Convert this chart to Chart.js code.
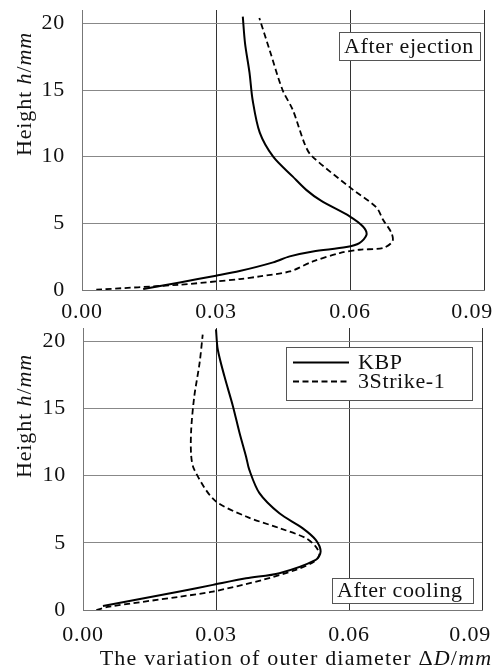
<!DOCTYPE html>
<html>
<head>
<meta charset="utf-8">
<script src="https://cdn.jsdelivr.net/npm/chart.js@4.4.1/dist/chart.umd.min.js"></script>
<style>
  html, body { margin: 0; padding: 0; background: #fff; }
  body { width: 499px; height: 671px; position: relative; overflow: hidden; font-family: "Liberation Serif", "DejaVu Serif", serif; color: #111; }
  .wrap { position: absolute; left: 0; width: 499px; }
  .ytitle { position: absolute; font-size: 22px; line-height: 22px; letter-spacing: 0.9px; white-space: nowrap; transform: translate(-50%, -50%) rotate(-90deg); color: #111; }
  .xtitle { position: absolute; font-size: 22px; line-height: 22px; letter-spacing: 1.2px; white-space: nowrap; transform: translateX(-50%); color: #111; }
  i { font-style: italic; }
</style>
</head>
<body>
<div class="wrap" style="top:0;height:320px;"><canvas id="c1" width="499" height="320"></canvas></div>
<div class="wrap" style="top:320px;height:351px;"><canvas id="c2" width="499" height="351"></canvas></div>
<div class="ytitle" style="left:24px;top:94px;">Height <i>h</i>/<i>mm</i></div>
<div class="ytitle" style="left:24px;top:416px;">Height <i>h</i>/<i>mm</i></div>
<div class="xtitle" style="left:296px;top:647px;">The variation of outer diameter Δ<i>D</i>/<i>mm</i></div>
<script>
// ---- data ----
const SERIES_NAMES = ["KBP", "3Strike-1"];
const PANEL_LABELS = ["After ejection", "After cooling"];
const X_TICKS = [0, 0.03, 0.06, 0.09];
const Y_TICKS = [0, 5, 10, 15, 20];

// After ejection
const EJ_KBP_DD = [0.0137, 0.0219, 0.0300, 0.0353, 0.0428, 0.0465, 0.0517, 0.0592, 0.0621, 0.0637, 0.0629, 0.0600, 0.0535, 0.0502, 0.0472, 0.0428, 0.0398, 0.0382, 0.0375, 0.0365, 0.0360];
const EJ_KBP_H  = [0.07, 0.57, 1.07, 1.42, 2.07, 2.52, 2.89, 3.22, 3.52, 4.14, 4.76, 5.51, 6.70, 7.51, 8.50, 10.0, 11.8, 14.25, 16.3, 18.5, 20.5];
const EJ_3S_DD  = [0.0032, 0.0219, 0.0300, 0.0353, 0.0398, 0.0465, 0.0517, 0.0577, 0.0621, 0.0674, 0.0695, 0.0693, 0.0674, 0.0659, 0.0607, 0.0513, 0.0498, 0.0472, 0.0449, 0.0420, 0.0397];
const EJ_3S_H   = [0.02, 0.40, 0.64, 0.82, 1.02, 1.39, 2.14, 2.77, 3.02, 3.15, 3.64, 4.27, 5.27, 6.20, 7.51, 10.1, 11.0, 13.5, 15.0, 18.0, 20.4];

// After cooling
const CO_KBP_DD = [0.0045, 0.0218, 0.0293, 0.0368, 0.0443, 0.0525, 0.0536, 0.0525, 0.0495, 0.0443, 0.0398, 0.0375, 0.0368, 0.0353, 0.0338, 0.0319, 0.0304, 0.0300];
const CO_KBP_H  = [0.30, 1.37, 1.87, 2.36, 2.74, 3.73, 4.35, 5.22, 6.10, 7.20, 8.70, 10.45, 11.4, 13.2, 15.2, 17.4, 19.4, 20.9];
const CO_3S_DD  = [0.0030, 0.0060, 0.0218, 0.0293, 0.0405, 0.0480, 0.0521, 0.0533, 0.0525, 0.0503, 0.0443, 0.0368, 0.0296, 0.0251, 0.0244, 0.0244, 0.0251, 0.0263, 0.0270];
const CO_3S_H   = [0.00, 0.25, 0.99, 1.37, 2.24, 2.99, 3.60, 4.10, 4.72, 5.35, 6.10, 6.96, 8.20, 10.45, 11.5, 13.4, 15.9, 18.4, 20.5];

function pts(xs, ys) { return xs.map((x, i) => ({ x: x, y: ys[i] })); }

const FONT = { family: "'Liberation Serif', 'DejaVu Serif', serif", size: 22 };
const SPACING = '0.8px';

const spacingPlugin = {
  id: 'spacing',
  beforeUpdate(chart) { chart.ctx.letterSpacing = SPACING; },
  beforeDraw(chart) { chart.ctx.letterSpacing = SPACING; }
};

function boxPlugin(cfg) {
  return {
    id: 'panelDecor',
    afterDatasetsDraw(chart) {
      const ctx = chart.ctx, a = chart.chartArea;
      ctx.save();
      ctx.letterSpacing = '0.6px';
      ctx.font = "22px 'Liberation Serif', serif";
      ctx.strokeStyle = '#555';
      ctx.lineWidth = 1;
      // panel label box
      const lb = cfg.label;
      const bx = a.right - lb.right - lb.w;
      const by = lb.top != null ? a.top + lb.top : a.bottom - lb.bottom - lb.h;
      ctx.fillStyle = '#fff';
      ctx.fillRect(bx, by, lb.w, lb.h);
      ctx.strokeRect(Math.round(bx) + 0.5, Math.round(by) + 0.5, lb.w, lb.h);
      ctx.fillStyle = '#111';
      ctx.textBaseline = 'middle';
      ctx.textAlign = 'left';
      ctx.fillText(lb.text, bx + 5, by + lb.h / 2 + 1);
      // legend
      if (cfg.legend) {
        const lg = cfg.legend;
        const lx = a.right - lg.right - lg.w, ly = a.top + lg.top;
        ctx.fillStyle = '#fff';
        ctx.fillRect(lx, ly, lg.w, lg.h);
        ctx.strokeRect(Math.round(lx) + 0.5, Math.round(ly) + 0.5, lg.w, lg.h);
        chart.data.datasets.forEach((ds, i) => {
          const yy = ly + 15.5 + i * 19;
          ctx.save();
          ctx.strokeStyle = ds.borderColor;
          ctx.lineWidth = ds.borderWidth;
          ctx.setLineDash(ds.borderDash || []);
          ctx.beginPath();
          ctx.moveTo(lx + 7, yy);
          ctx.lineTo(lx + 63, yy);
          ctx.stroke();
          ctx.restore();
          ctx.fillStyle = '#111';
          ctx.fillText(ds.label, lx + 72, yy + 1);
        });
      }
      ctx.restore();
    }
  };
}

function makeChart(id, kbp, s3, opts) {
  return new Chart(document.getElementById(id), {
    type: 'scatter',
    data: {
      datasets: [
        { label: SERIES_NAMES[0], data: kbp, showLine: true, borderColor: '#000', borderWidth: 2, pointRadius: 0, tension: 0.3, fill: false },
        { label: SERIES_NAMES[1], data: s3, showLine: true, borderColor: '#000', borderWidth: 1.8, borderDash: [6, 3.5], pointRadius: 0, tension: 0.3, fill: false }
      ]
    },
    options: {
      responsive: false,
      animation: false,
      layout: { padding: opts.padding },
      plugins: { legend: { display: false }, tooltip: { enabled: false } },
      scales: {
        x: {
          type: 'linear', min: 0, max: 0.09,
          afterBuildTicks(s) { s.ticks = X_TICKS.map(v => ({ value: v })); },
          afterFit(s) { s.height = opts.xh; s.paddingLeft = 0; s.paddingRight = 0; },
          ticks: {
            font: FONT, color: '#111', padding: opts.xpad, maxRotation: 0,
            // last label kept inside the picture, as in the reference
            callback: (v, i, arr) => v.toFixed(2) + (i === arr.length - 1 ? '\u2002\u2002' : '')
          },
          grid: { drawTicks: false, color: ctx => (ctx.tick && ctx.tick.value === 0) ? 'rgba(0,0,0,0)' : '#333', lineWidth: 1 },
          border: { display: true, color: '#777', width: 1 }
        },
        y: {
          type: 'linear', min: 0, max: 21,
          afterBuildTicks(s) { s.ticks = Y_TICKS.map(v => ({ value: v })); },
          afterFit(s) { s.width = opts.yw; s.paddingTop = 0; s.paddingBottom = 0; },
          ticks: { font: FONT, color: '#111', padding: 17 },
          grid: { drawTicks: false, color: ctx => (ctx.tick && ctx.tick.value === 0) ? 'rgba(0,0,0,0)' : '#888', lineWidth: 1 },
          border: { display: true, color: '#777', width: 1 }
        }
      }
    },
    plugins: [spacingPlugin, boxPlugin(opts.decor)]
  });
}

makeChart('c1', pts(EJ_KBP_DD, EJ_KBP_H), pts(EJ_3S_DD, EJ_3S_H), {
  padding: { left: 0, top: 10, right: 15, bottom: 0 },
  xh: 30, yw: 82, xpad: 9,
  decor: { label: { text: PANEL_LABELS[0], right: 4, top: 22, w: 141, h: 28 } }
});
makeChart('c2', pts(CO_KBP_DD, CO_KBP_H), pts(CO_3S_DD, CO_3S_H), {
  padding: { left: 0, top: 8, right: 17, bottom: 0 },
  xh: 61, yw: 83, xpad: 12,
  decor: { label: { text: PANEL_LABELS[1], right: 9, bottom: 7, w: 141, h: 25 },
           legend: { right: 10, top: 19, w: 186, h: 53 } }
});
</script>
</body>
</html>
